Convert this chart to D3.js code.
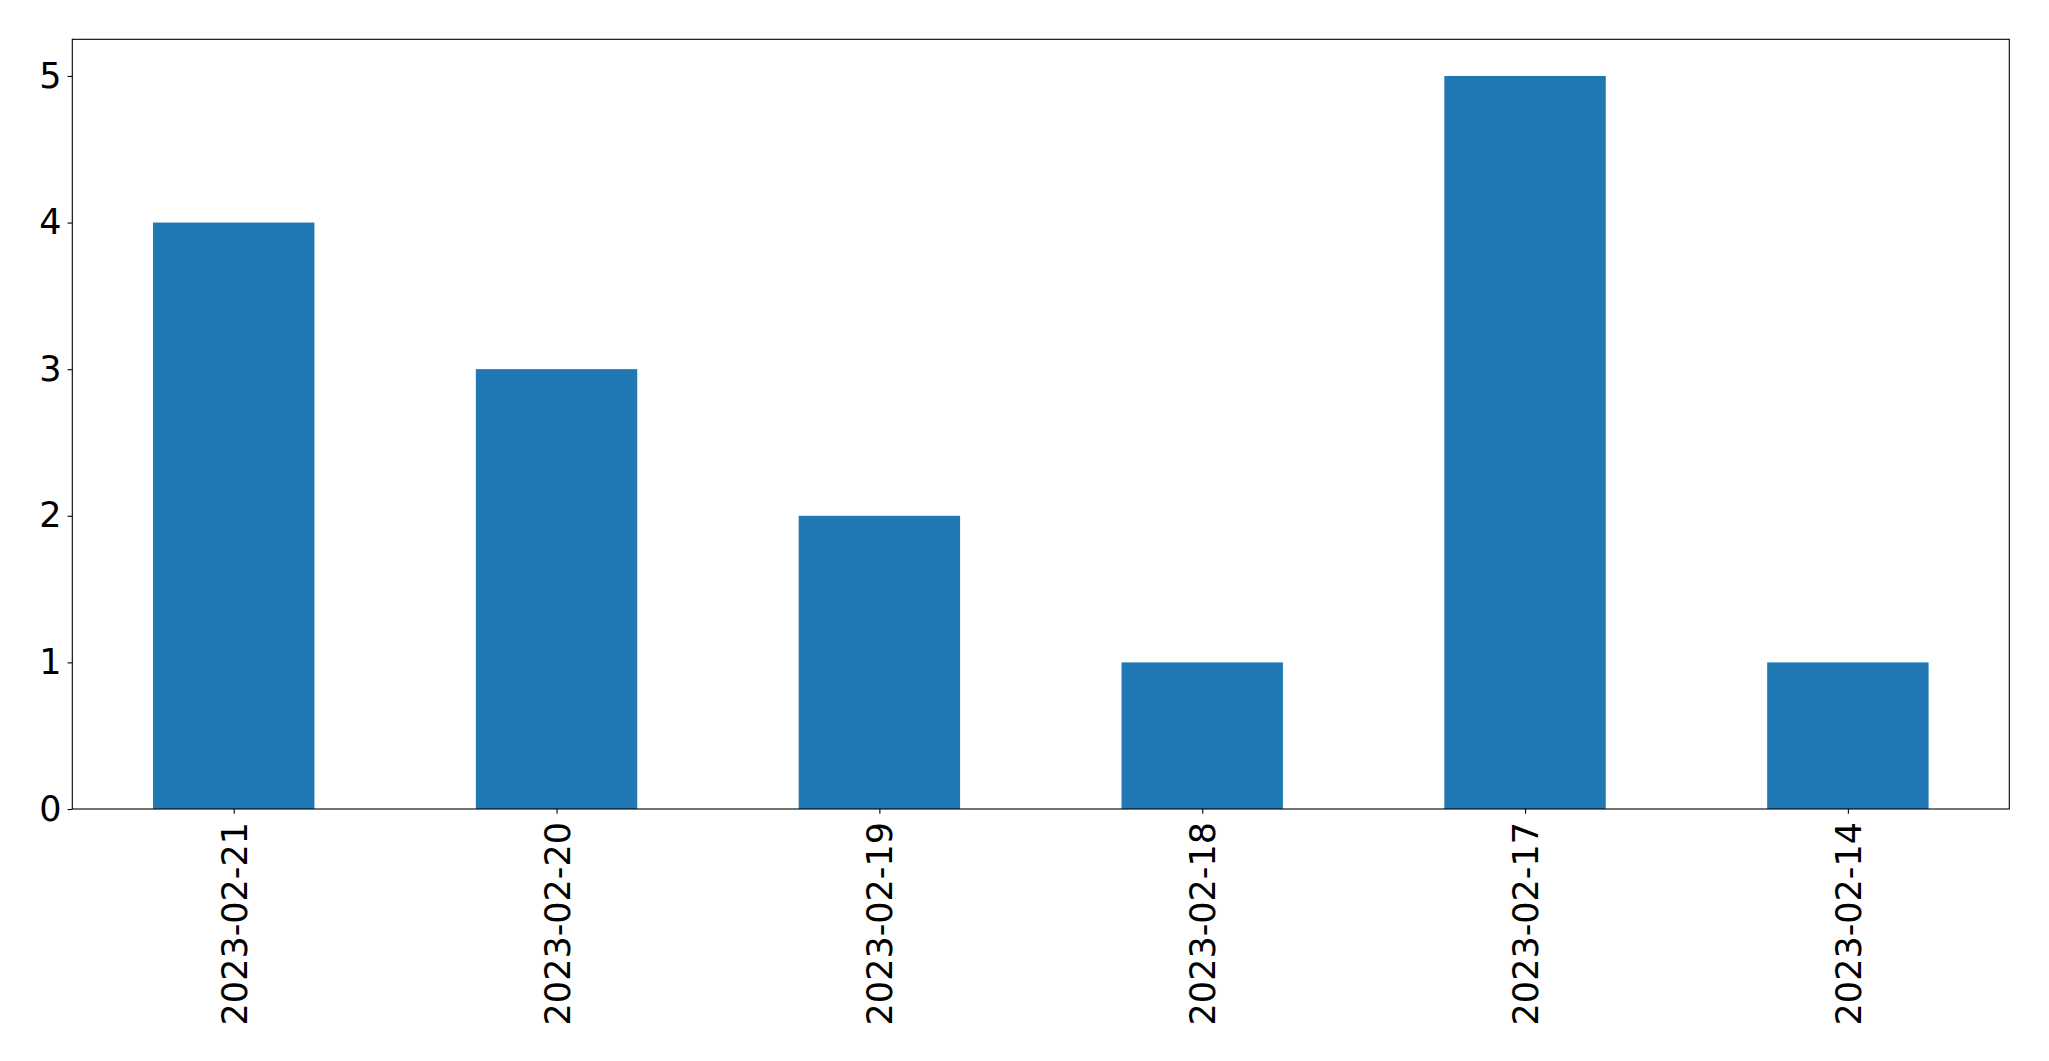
<!DOCTYPE html>
<html>
<head>
<meta charset="utf-8">
<script src="https://cdn.jsdelivr.net/npm/d3@7"></script>
<style>
  body { margin: 0; background: #fff; }
  svg { display: block; }
</style>
</head>
<body>
<div id="chart"></div>
<script>
// chart data
var dates = ["2023-02-21", "2023-02-20", "2023-02-19", "2023-02-18", "2023-02-17", "2023-02-14"];
var counts = [4, 3, 2, 1, 5, 1];
var yTicks = [0, 1, 2, 3, 4, 5];

var W = 2049, H = 1061;
var margin = {top: 39.3, right: 39.7, bottom: 252, left: 72.3};
var width = W - margin.left - margin.right;
var height = H - margin.top - margin.bottom;

var svg = d3.select("#chart").append("svg")
  .attr("width", W)
  .attr("height", H);

var g = svg.append("g")
  .attr("transform", "translate(" + margin.left + "," + margin.top + ")");

// matplotlib-like category axis: -0.5 .. n-0.5, bar width 0.5
var xScale = d3.scaleLinear()
  .domain([-0.5, dates.length - 0.5])
  .range([0, width]);

var yScale = d3.scaleLinear()
  .domain([0, d3.max(counts) * 1.05])
  .range([height, 0]);

g.selectAll("rect.bar")
  .data(counts)
  .enter()
  .append("rect")
  .attr("class", "bar")
  .attr("x", function(d, i) { return xScale(i - 0.25); })
  .attr("width", function(d, i) { return xScale(i + 0.25) - xScale(i - 0.25); })
  .attr("y", function(d) { return yScale(d); })
  .attr("height", function(d) { return height - yScale(d); })
  .attr("fill", "#1f77b4");

var xAxis = d3.axisBottom(xScale)
  .tickValues(d3.range(dates.length))
  .tickFormat(function(d) { return dates[d]; })
  .tickSize(4.7)
  .tickPadding(5);

var yAxis = d3.axisLeft(yScale)
  .tickValues(yTicks)
  .tickFormat(d3.format("d"))
  .tickSize(4.7)
  .tickPadding(6);

var gx = g.append("g")
  .attr("transform", "translate(0," + height + ")")
  .call(xAxis);

gx.selectAll("text")
  .attr("transform", "rotate(-90)")
  .attr("x", -13)
  .attr("y", 0)
  .attr("dy", "0.36em")
  .style("text-anchor", "end");

var gy = g.append("g").call(yAxis);

[gx, gy].forEach(function(ax) {
  ax.select(".domain").remove();
  ax.selectAll("line").attr("stroke", "#000").attr("stroke-width", 1.1);
  ax.selectAll("text")
    .attr("fill", "#000")
    .style("font-family", "'DejaVu Sans', sans-serif")
    .style("font-size", "35px");
});

// frame
g.append("rect")
  .attr("x", 0)
  .attr("y", 0)
  .attr("width", width)
  .attr("height", height)
  .attr("fill", "none")
  .attr("stroke", "#000")
  .attr("stroke-width", 1.1);
</script>
</body>
</html>
